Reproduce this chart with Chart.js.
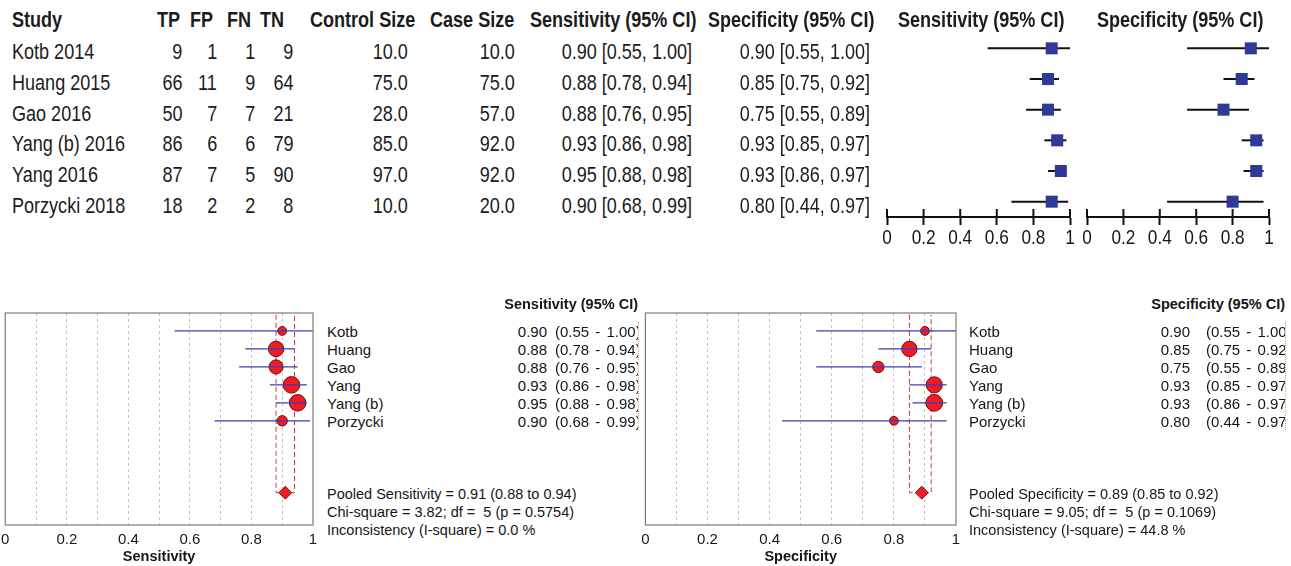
<!DOCTYPE html>
<html>
<head>
<meta charset="utf-8">
<script src="https://cdn.jsdelivr.net/npm/chart.js@4.4.1/dist/chart.umd.min.js"></script>
<style>
  body { margin: 0; background: #fff; width: 1291px; height: 566px; overflow: hidden; position: relative; }
  canvas { position: absolute; }
  .t { position: absolute; white-space: pre; line-height: 1; color: #161616; }
  .n { font-family: "Liberation Sans", Arial, sans-serif; transform: scaleX(0.82); color: #1c1c1c; }
  .a { font-family: "Liberation Sans", Arial, sans-serif; }
  .clip { position: absolute; overflow: hidden; border-right: 1px dotted #d9a46a; }
</style>
</head>
<body>
<canvas id="topSens" width="210" height="240" style="left:870px;top:20px"></canvas>
<canvas id="topSpec" width="205" height="240" style="left:1075px;top:20px"></canvas>
<canvas id="botSens" width="329" height="266" style="left:-4px;top:300px"></canvas>
<canvas id="botSpec" width="334" height="266" style="left:636px;top:300px"></canvas>

<script>
// data
const studies = ['Kotb 2014', 'Huang 2015', 'Gao 2016', 'Yang (b) 2016', 'Yang 2016', 'Porzycki 2018'];
const shortNames = ['Kotb', 'Huang', 'Gao', 'Yang', 'Yang (b)', 'Porzycki'];
const tp = [9, 66, 50, 86, 87, 18];
const fp = [1, 11, 7, 6, 7, 2];
const fn = [1, 9, 7, 6, 5, 2];
const tn = [9, 64, 21, 79, 90, 8];
const controlSize = [10, 75, 28, 85, 97, 10];
const caseSize = [10, 75, 57, 92, 92, 20];
const sens = [0.90, 0.88, 0.88, 0.93, 0.95, 0.90];
const sensLo = [0.55, 0.78, 0.76, 0.86, 0.88, 0.68];
const sensHi = [1.00, 0.94, 0.95, 0.98, 0.98, 0.99];
const spec = [0.90, 0.85, 0.75, 0.93, 0.93, 0.80];
const specLo = [0.55, 0.75, 0.55, 0.85, 0.86, 0.44];
const specHi = [1.00, 0.92, 0.89, 0.97, 0.97, 0.97];
const pooledSens = [0.91, 0.88, 0.94];
const pooledSpec = [0.89, 0.85, 0.92];
const sensHet = ['3.82', '5', '0.5754', '0.0'];
const specHet = ['9.05', '5', '0.1069', '44.8'];
const xTickLabels = ['0', '0.2', '0.4', '0.6', '0.8', '1'];

const ARIAL = '"Liberation Sans", Arial, sans-serif';
Chart.defaults.font.family = ARIAL;
Chart.defaults.color = '#161616';

// put a line of text, y is the vertical centre
function txt(s, x, y, size, cls, align, bold) {
    const d = document.createElement('div');
    d.className = 't ' + cls;
    d.textContent = s;
    d.style.fontSize = size + 'px';
    d.style.top = (y - size / 2) + 'px';
    if (bold) d.style.fontWeight = 'bold';
    if (align === 'right') {
        d.style.right = (1291 - x) + 'px';
        d.style.transformOrigin = 'right center';
    } else {
        d.style.left = x + 'px';
        d.style.transformOrigin = 'left center';
    }
    document.body.appendChild(d);
    return d;
}

// ---- top table ----
const rowY = i => 52 + 30.8 * i;
const headY = 20;
const FS = 22;
txt('Study', 12, headY, FS, 'n', 'left', true);
txt('TP', 157, headY, FS, 'n', 'left', true);
txt('FP', 190, headY, FS, 'n', 'left', true);
txt('FN', 227, headY, FS, 'n', 'left', true);
txt('TN', 260, headY, FS, 'n', 'left', true);
txt('Control Size', 310, headY, FS, 'n', 'left', true);
txt('Case Size', 430, headY, FS, 'n', 'left', true);
txt('Sensitivity (95% CI)', 530, headY, FS, 'n', 'left', true);
txt('Specificity (95% CI)', 708, headY, FS, 'n', 'left', true);
txt('Sensitivity (95% CI)', 898, headY, FS, 'n', 'left', true);
txt('Specificity (95% CI)', 1097, headY, FS, 'n', 'left', true);

const ci = (v, lo, hi) => v.toFixed(2) + ' [' + lo.toFixed(2) + ', ' + hi.toFixed(2) + ']';
studies.forEach((s, i) => {
    const y = rowY(i);
    txt(s, 12, y, FS, 'n', 'left');
    txt(String(tp[i]), 182, y, FS, 'n', 'right');
    txt(String(fp[i]), 217, y, FS, 'n', 'right');
    txt(String(fn[i]), 255, y, FS, 'n', 'right');
    txt(String(tn[i]), 293, y, FS, 'n', 'right');
    txt(controlSize[i].toFixed(1), 408, y, FS, 'n', 'right');
    txt(caseSize[i].toFixed(1), 515, y, FS, 'n', 'right');
    txt(ci(sens[i], sensLo[i], sensHi[i]), 692, y, FS, 'n', 'right');
    txt(ci(spec[i], specLo[i], specHi[i]), 870, y, FS, 'n', 'right');
});

// ---- bottom side texts ----
function sideText(title, x0, valRight, ciLeft, clipRight, est, lo, hi, pooled, het, word) {
    const AF = 14.5, RF = 15;
    txt(title, clipRight, 304, AF, 'a', 'right', true);
    shortNames.forEach((s, i) => {
        const y = 331 + 18 * i;
        txt(s, x0, y, RF, 'a', 'left');
        txt(est[i].toFixed(2), valRight, y, RF, 'a', 'right');
    });
    // the CI column is cut off at the plot edge, as in the original
    const box = document.createElement('div');
    box.className = 'clip';
    box.style.left = ciLeft + 'px';
    box.style.top = '322px';
    box.style.width = (clipRight - ciLeft) + 'px';
    box.style.height = '108px';
    document.body.appendChild(box);
    shortNames.forEach((s, i) => {
        const d = document.createElement('div');
        d.className = 't a';
        d.style.fontSize = RF + 'px';
        d.style.wordSpacing = '2px';
        d.style.left = '0px';
        d.style.top = (9 + 18 * i - RF / 2) + 'px';
        d.textContent = '(' + lo[i].toFixed(2) + ' - ' + hi[i].toFixed(2) + ')';
        box.appendChild(d);
    });
    txt('Pooled ' + word + ' = ' + pooled[0].toFixed(2) + ' (' + pooled[1].toFixed(2) + ' to ' + pooled[2].toFixed(2) + ')', x0, 494, AF, 'a', 'left');
    txt('Chi-square = ' + het[0] + '; df =  ' + het[1] + ' (p = ' + het[2] + ')', x0, 512, AF, 'a', 'left');
    txt('Inconsistency (I-square) = ' + het[3] + ' %', x0, 530, AF, 'a', 'left');
}
sideText('Sensitivity (95% CI)', 327, 547, 555, 638, sens, sensLo, sensHi, pooledSens, sensHet, 'Sensitivity');
sideText('Specificity (95% CI)', 969, 1190, 1206, 1285, spec, specLo, specHi, pooledSpec, specHet, 'Specificity');

// ---- plugins ----
// tick marks crossing the axis line and narrow tick labels
const crossAxis = {
    id: 'crossAxis',
    afterDraw(chart) {
        const s = chart.scales.x, ctx = chart.ctx;
        ctx.save();
        ctx.strokeStyle = '#111';
        ctx.fillStyle = '#161616';
        ctx.lineWidth = 2;
        ctx.font = '21px "Liberation Sans", Arial, sans-serif';
        ctx.textAlign = 'center';
        ctx.textBaseline = 'middle';
        s.ticks.forEach(t => {
            const px = s.getPixelForValue(t.value);
            ctx.beginPath();
            ctx.moveTo(px, s.top - 8);
            ctx.lineTo(px, s.top);
            ctx.stroke();
            ctx.save();
            ctx.translate(px, s.top + 21);
            ctx.scale(0.82, 1);
            ctx.fillText(t.label, 0, 0);
            ctx.restore();
        });
        ctx.restore();
    }
};

const frame = {
    id: 'frame',
    afterDraw(chart) {
        const a = chart.chartArea, ctx = chart.ctx;
        ctx.save();
        ctx.strokeStyle = '#7c7c7c';
        ctx.lineWidth = 1.2;
        ctx.strokeRect(a.left, a.top, a.right - a.left, a.bottom - a.top);
        ctx.restore();
    }
};

// ---- top forest plots ----
function topForest(id, est, lo, hi, padL, padR) {
    const datasets = [{
        type: 'scatter',
        data: est.map((v, i) => ({ x: v, y: i + 1 })),
        pointStyle: 'rect',
        pointRadius: 8.5,
        backgroundColor: '#2e3a96',
        borderWidth: 0
    }];
    est.forEach((v, i) => {
        datasets.push({
            type: 'line',
            data: [{ x: lo[i], y: i + 1 }, { x: hi[i], y: i + 1 }],
            borderColor: '#111',
            borderWidth: 2,
            pointRadius: 0
        });
    });
    new Chart(document.getElementById(id), {
        type: 'scatter',
        data: { datasets },
        options: {
            responsive: false,
            animation: false,
            events: [],
            layout: { padding: { left: padL, right: padR, top: 13, bottom: 0 } },
            plugins: { legend: { display: false }, tooltip: { enabled: false } },
            scales: {
                x: {
                    type: 'linear', min: 0, max: 1,
                    ticks: {
                        stepSize: 0.2, autoSkip: false, maxRotation: 0, padding: 2,
                        color: 'rgba(0,0,0,0)',
                        font: { size: 12 },
                        callback: v => xTickLabels[Math.round(v * 5)]
                    },
                    grid: { drawOnChartArea: false, drawTicks: true, tickLength: 8, tickWidth: 2, tickColor: '#111' },
                    border: { display: true, color: '#111', width: 2 },
                    afterFit: s => { s.height = 43; }
                },
                y: { type: 'linear', min: 0.5, max: 6.5, reverse: true, display: false }
            }
        },
        plugins: [crossAxis]
    });
}
topForest('topSens', sens, sensLo, sensHi, 17, 10);
topForest('topSpec', spec, specLo, specHi, 12, 11);

// ---- bottom forest plots ----
function bottomForest(id, est, lo, hi, weights, pooled, title, padL, padR) {
    const datasets = [];
    est.forEach((v, i) => {
        datasets.push({
            type: 'line',
            data: [{ x: lo[i], y: i + 1 }, { x: hi[i], y: i + 1 }],
            borderColor: '#3c3cb4',
            borderWidth: 1.2,
            pointRadius: 0
        });
    });
    datasets.push({
        type: 'scatter',
        data: est.map((v, i) => ({ x: v, y: i + 1 })),
        pointStyle: 'circle',
        pointRadius: weights.map(w => 2.5 + 0.6 * Math.sqrt(w)),
        backgroundColor: '#ee1c24',
        borderColor: '#6e0c0c',
        borderWidth: 1
    });
    datasets.push({
        type: 'scatter',
        data: [{ x: pooled[0], y: 10 }],
        pointStyle: 'rectRot',
        pointRadius: 6.5,
        backgroundColor: '#ee1c24',
        borderColor: '#8a1010',
        borderWidth: 1
    });
    datasets.push({
        type: 'line',
        data: [{ x: pooled[1], y: 0.1 }, { x: pooled[1], y: 10 }, { x: pooled[2], y: 10 }, { x: pooled[2], y: 0.1 }],
        borderColor: '#c83848',
        borderWidth: 1,
        borderDash: [5, 3],
        pointRadius: 0,
        tension: 0
    });
    new Chart(document.getElementById(id), {
        type: 'scatter',
        data: { datasets },
        options: {
            responsive: false,
            animation: false,
            events: [],
            layout: { padding: { left: padL, right: padR, top: 13, bottom: 0 } },
            plugins: { legend: { display: false }, tooltip: { enabled: false } },
            scales: {
                x: {
                    type: 'linear', min: 0, max: 1,
                    ticks: {
                        stepSize: 0.1, autoSkip: false, maxRotation: 0, padding: 0,
                        color: '#161616',
                        font: { family: ARIAL, size: 15 },
                        callback: v => {
                            const k = Math.round(v * 10);
                            return k % 2 ? '' : xTickLabels[k / 2];
                        }
                    },
                    grid: {
                        drawTicks: true,
                        tickLength: 6,
                        tickColor: 'rgba(0,0,0,0)',
                        lineWidth: 1,
                        color: c => (Math.round(c.tick.value * 10) % 10 === 0 ? 'rgba(0,0,0,0)' : '#c4c4c4')
                    },
                    border: { display: false, dash: [3, 3] },
                    title: { display: true, text: title, color: '#161616', font: { family: ARIAL, size: 14.5, weight: 'bold' }, padding: { top: 0, bottom: 0 } },
                    afterFit: s => { s.height = 41; }
                },
                y: { type: 'linear', min: 0, max: 11.8, reverse: true, display: false }
            }
        },
        plugins: [frame]
    });
}
bottomForest('botSens', sens, sensLo, sensHi, caseSize, pooledSens, 'Sensitivity', 5, 12);
bottomForest('botSpec', spec, specLo, specHi, controlSize, pooledSpec, 'Specificity', 7, 14);
</script>
</body>
</html>
